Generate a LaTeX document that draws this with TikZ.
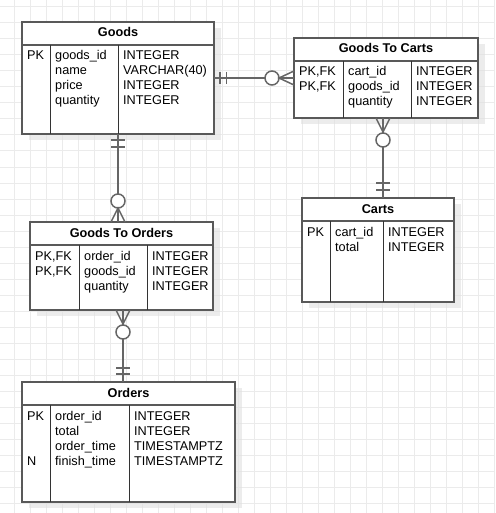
\documentclass[tikz,border=0pt]{standalone}
\usepackage{fontspec}
\setmainfont{Liberation Sans}
\usetikzlibrary{shadows}

\begin{document}
\begin{tikzpicture}[x=1pt,y=-1pt,
    entity/.style={rectangle,draw=black!65,line width=2pt,fill=white,inner sep=0pt,outer sep=0pt,anchor=north west,
        drop shadow={shadow xshift=7pt,shadow yshift=-6pt,fill=black!12,opacity=.6}},
    title/.style={anchor=base,inner sep=0pt,font=\fontsize{12.7}{15}\selectfont\bfseries},
    field/.style={anchor=base west,inner sep=0pt,align=left,font=\fontsize{12.7}{15}\selectfont},
    rule/.style={draw=black!65,line width=2pt},
    col/.style={draw=black!80,line width=1pt},
    rel/.style={draw=black!60,line width=1.5pt},
    gridline/.style={draw=black!8,line width=1pt}]

\fill[white] (0,0) rectangle (495,513);
\useasboundingbox (0,0) rectangle (495,513);

% grid
\foreach \i in {0,...,31} {
    \draw[gridline] (-1.3+16*\i,0) -- (-1.3+16*\i,513);
    \draw[gridline] (0,7+16*\i) -- (495,7+16*\i);
}

% goods  (field nodes sit on the baseline of their last line)
\node[entity,minimum width=192pt,minimum height=112pt] (goods) at (22,22) {};
\draw[rule] (22,45) -- (214,45);
\draw[col] (50,45) -- (50,134);
\draw[col] (118,45) -- (118,134);
\node[title] (goodsT) at (118,37) {Goods};
\node[field] (goodsK) at (27,60) {PK};
\node[field] (goodsF) at (55,105) {goods\_id\\name\\price\\quantity};
\node[field] (goodsY) at (123,105) {INTEGER\\VARCHAR(40)\\INTEGER\\INTEGER};

% goods to carts
\node[entity,minimum width=184pt,minimum height=80pt] (gtc) at (294,38) {};
\draw[rule] (294,61) -- (478,61);
\draw[col] (343,61) -- (343,118);
\draw[col] (411,61) -- (411,118);
\node[title] (gtcT) at (386,53) {Goods To Carts};
\node[field] (gtcK) at (299,91) {PK,FK\\PK,FK};
\node[field] (gtcF) at (348,106) {cart\_id\\goods\_id\\quantity};
\node[field] (gtcY) at (416,106) {INTEGER\\INTEGER\\INTEGER};

% carts
\node[entity,minimum width=152pt,minimum height=104pt] (carts) at (302,198) {};
\draw[rule] (302,221) -- (454,221);
\draw[col] (330,221) -- (330,302);
\draw[col] (383,221) -- (383,302);
\node[title] (cartsT) at (378,213) {Carts};
\node[field] (cartsK) at (307,236) {PK};
\node[field] (cartsF) at (335,251) {cart\_id\\total};
\node[field] (cartsY) at (388,251) {INTEGER\\INTEGER};

% goods to orders
\node[entity,minimum width=183pt,minimum height=88pt] (gto) at (30,222) {};
\draw[rule] (30,245) -- (213,245);
\draw[col] (79,245) -- (79,310);
\draw[col] (147,245) -- (147,310);
\node[title] (gtoT) at (121.5,237) {Goods To Orders};
\node[field] (gtoK) at (35,275) {PK,FK\\PK,FK};
\node[field] (gtoF) at (84,290) {order\_id\\goods\_id\\quantity};
\node[field] (gtoY) at (152,290) {INTEGER\\INTEGER\\INTEGER};

% orders
\node[entity,minimum width=213pt,minimum height=120pt] (orders) at (22,382) {};
\draw[rule] (22,405) -- (235,405);
\draw[col] (50,405) -- (50,502);
\draw[col] (129,405) -- (129,502);
\node[title] (ordersT) at (128.5,397) {Orders};
\node[field] (ordersK) at (27,465) {PK\\\mbox{}\\\mbox{}\\N};
\node[field] (ordersF) at (55,465) {order\_id\\total\\order\_time\\finish\_time};
\node[field] (ordersY) at (134,465) {INTEGER\\INTEGER\\TIMESTAMPTZ\\TIMESTAMPTZ};

% goods -- goods to carts
\draw[rel] (goods.east) -- (gtc.west);
\draw[rel] ([xshift=6pt]goods.east) ++(0,-6) -- ++(0,12);
\draw[rel] ([xshift=12.5pt]goods.east) ++(0,-6) -- ++(0,12);
\draw[rel,fill=white] ([xshift=-22pt]gtc.west) circle (7pt);
\draw[rel] ([yshift=7pt]gtc.west) -- ++(-15,7) -- ++(15,7);

% goods to carts -- carts
\draw[rel] ([xshift=89pt]gtc.south west) -- ([xshift=81pt]carts.north west);
\draw[rel] ([xshift=82pt]gtc.south west) -- ++(7,14) -- ++(7,-14);
\draw[rel,fill=white] ([xshift=89pt,yshift=-22pt]gtc.south west) circle (7pt);
\draw[rel] ([xshift=81pt,yshift=15pt]carts.north west) ++(-7,0) -- ++(14,0);
\draw[rel] ([xshift=81pt,yshift=8pt]carts.north west) ++(-7,0) -- ++(14,0);

% goods -- goods to orders
\coordinate (gtoTop) at (goods.south |- gto.north);
\draw[rel] (goods.south) -- (gtoTop);
\draw[rel] ([yshift=-6pt]goods.south) ++(-7,0) -- ++(14,0);
\draw[rel] ([yshift=-13pt]goods.south) ++(-7,0) -- ++(14,0);
\draw[rel,fill=white] ([yshift=21pt]gtoTop) circle (7pt);
\draw[rel] ([xshift=-7pt]gtoTop) -- ++(7,-14) -- ++(7,14);

% goods to orders -- orders
\draw[rel] ([xshift=93pt]gto.south west) -- ([xshift=101pt]orders.north west);
\draw[rel] ([xshift=86pt]gto.south west) -- ++(7,14) -- ++(7,-14);
\draw[rel,fill=white] ([xshift=93pt,yshift=-22pt]gto.south west) circle (7pt);
\draw[rel] ([xshift=101pt,yshift=14pt]orders.north west) ++(-7,0) -- ++(14,0);
\draw[rel] ([xshift=101pt,yshift=8pt]orders.north west) ++(-7,0) -- ++(14,0);

\end{tikzpicture}
\end{document}
